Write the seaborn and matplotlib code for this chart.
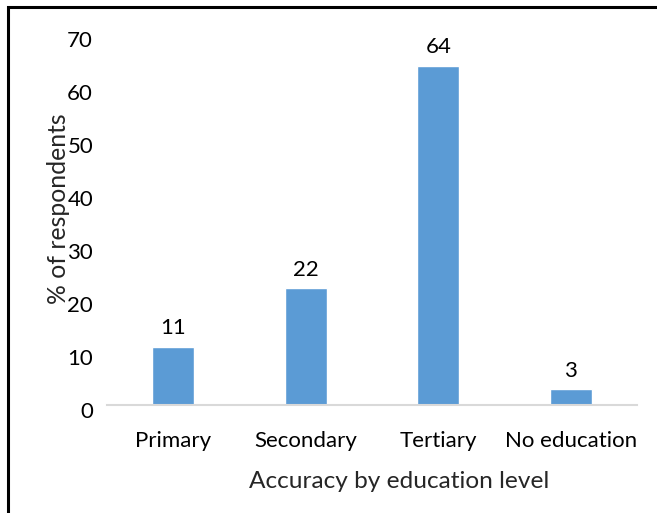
import matplotlib
matplotlib.use('Agg')
import matplotlib.pyplot as plt
import matplotlib.transforms as mtransforms
import seaborn as sns
import pandas as pd
from matplotlib.patches import Rectangle

categories = ['Primary', 'Secondary', 'Tertiary', 'No education']
values = [11, 22, 64, 3]
y_ticks = [0, 10, 20, 30, 40, 50, 60, 70]

df = pd.DataFrame({'level': categories, 'pct': values})

sns.set_style('white')
plt.rcParams['font.family'] = ['Lato', 'DejaVu Sans']

fig = plt.figure(figsize=(6.57, 5.13), dpi=100)
ax = fig.add_axes([107 / 657, 1 - 405 / 513, 530 / 657, 371 / 513])

sns.barplot(data=df, x='level', y='pct', order=categories, color='#5B9BD5',
            width=0.317, saturation=1, ax=ax)

ax.set_ylim(0, 70)
ax.set_xlim(-0.5, 3.5)
ax.set_yticks(y_ticks)

for i, v in enumerate(values):
    ax.annotate(str(v), (i, v), xytext=(0, 6), textcoords='offset points',
                ha='center', va='bottom', fontsize=16, color='black')

for side in ['top', 'right', 'left']:
    ax.spines[side].set_visible(False)
ax.spines['bottom'].set_color('#D9D9D9')
ax.spines['bottom'].set_linewidth(1.5)

ax.tick_params(axis='y', length=0, pad=10, labelsize=16, labelcolor='black')
ax.tick_params(axis='x', length=0, pad=18.5, labelsize=16, labelcolor='black')

# y tick labels sit a bit below their gridline, like the original
shift = mtransforms.ScaledTranslation(0, -5 / 100, fig.dpi_scale_trans)
for lbl in ax.get_yticklabels():
    lbl.set_transform(lbl.get_transform() + shift)

ax.set_xlabel('')
ax.set_ylabel('')
fig.text(399 / 657, 1 - 481 / 513, 'Accuracy by education level',
         ha='center', va='center', fontsize=17.6)
fig.text(58 / 657, 1 - 209 / 513, '% of respondents', rotation=90,
         ha='center', va='center', fontsize=17.8)

# outer frame (cropped on right and bottom)
fig.patches.append(Rectangle((8 / 657, -0.1), 1.2, 1 - 7 / 513 + 0.1,
                             transform=fig.transFigure, fill=False,
                             edgecolor='black', linewidth=2.2))

fig.savefig('out.png', dpi=100)
